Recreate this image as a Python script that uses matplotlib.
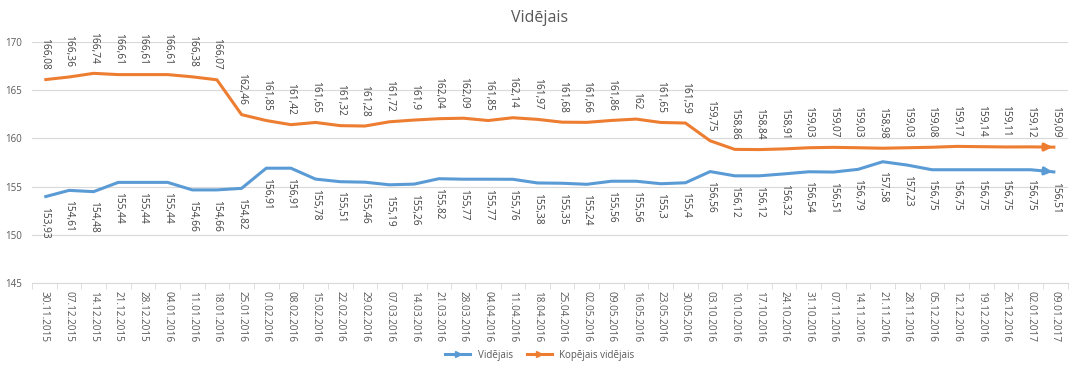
import matplotlib.pyplot as plt
from matplotlib.lines import Line2D

dates = ["30.11.2015", "07.12.2015", "14.12.2015", "21.12.2015", "28.12.2015",
         "04.01.2016", "11.01.2016", "18.01.2016", "25.01.2016", "01.02.2016",
         "08.02.2016", "15.02.2016", "22.02.2016", "29.02.2016", "07.03.2016",
         "14.03.2016", "21.03.2016", "28.03.2016", "04.04.2016", "11.04.2016",
         "18.04.2016", "25.04.2016", "02.05.2016", "09.05.2016", "16.05.2016",
         "23.05.2016", "30.05.2016", "03.10.2016", "10.10.2016", "17.10.2016",
         "24.10.2016", "31.10.2016", "07.11.2016", "14.11.2016", "21.11.2016",
         "28.11.2016", "05.12.2016", "12.12.2016", "19.12.2016", "26.12.2016",
         "02.01.2017", "09.01.2017"]

videjais = [153.93, 154.61, 154.48, 155.44, 155.44, 155.44, 154.66, 154.66, 154.82,
            156.91, 156.91, 155.78, 155.51, 155.46, 155.19, 155.26, 155.82, 155.77,
            155.77, 155.76, 155.38, 155.35, 155.24, 155.56, 155.56, 155.3, 155.4,
            156.56, 156.12, 156.12, 156.32, 156.54, 156.51, 156.79, 157.58, 157.23,
            156.75, 156.75, 156.75, 156.75, 156.75, 156.51]

kopejais = [166.08, 166.36, 166.74, 166.61, 166.61, 166.61, 166.38, 166.07, 162.46,
            161.85, 161.42, 161.65, 161.32, 161.28, 161.72, 161.9, 162.04, 162.09,
            161.85, 162.14, 161.97, 161.68, 161.66, 161.86, 162, 161.65, 161.59,
            159.75, 158.86, 158.84, 158.91, 159.03, 159.07, 159.03, 158.98, 159.03,
            159.08, 159.17, 159.14, 159.11, 159.12, 159.09]

blue = "#5b9bd5"
orange = "#ed7d31"
txt = "#595959"

plt.rcParams["font.family"] = ["Open Sans", "DejaVu Sans"]

fig = plt.figure(figsize=(10.8, 3.74), dpi=100)
ax = fig.add_axes([0.0296, 0.243, 0.959, 0.645])

x = list(range(len(dates)))


def fmt(v):
    s = ("%.2f" % v).rstrip("0").rstrip(".")
    return s.replace(".", ",")


for vals, col, above in [(videjais, blue, False), (kopejais, orange, True)]:
    ax.plot(x, vals, color=col, lw=2.2, solid_capstyle="butt")
    ax.annotate("", xy=(x[-1], vals[-1]), xytext=(x[-2] + 0.5, vals[-2] + 0.5 * (vals[-1] - vals[-2])),
                arrowprops=dict(arrowstyle="-|>", color=col, lw=2.2, mutation_scale=11))
    for xi, v in zip(x, vals):
        if above:
            ax.annotate(fmt(v), (xi, v), xytext=(0, 7), textcoords="offset points",
                        rotation=-90, ha="center", va="bottom", fontsize=7.3, color="#404040")
        else:
            ax.annotate(fmt(v), (xi, v), xytext=(0, -7), textcoords="offset points",
                        rotation=-90, ha="center", va="top", fontsize=7.3, color="#404040")

ax.set_ylim(145, 170)
ax.set_yticks([145, 150, 155, 160, 165, 170])
ax.set_xlim(-0.5, len(dates) - 0.5)
ax.set_xticks(x)
ax.set_xticklabels(dates, rotation=-90, fontsize=7.2, color=txt)
ax.set_xticks([i - 0.5 for i in range(len(dates) + 1)], minor=True)
ax.tick_params(axis="x", which="major", length=0, pad=6)
ax.tick_params(axis="x", which="minor", length=4, color="#d9d9d9")
ax.tick_params(axis="y", length=0, labelsize=7, labelcolor=txt, pad=7)
ax.grid(axis="y", color="#d9d9d9", lw=0.8)
ax.set_axisbelow(True)
for s in ["left", "right", "top"]:
    ax.spines[s].set_visible(False)
ax.spines["bottom"].set_color("#d9d9d9")

fig.text(0.5, 0.952, "Vidējais", ha="center", va="center", fontsize=11.5, color=txt)

handles = [Line2D([0], [0], color=blue, lw=2.2, marker=">", markevery=[1], markersize=5),
           Line2D([0], [0], color=orange, lw=2.2, marker=">", markevery=[1], markersize=5)]
fig.legend(handles, ["Vidējais", "Kopējais vidējais"], loc="center", bbox_to_anchor=(0.5, 0.05),
           ncol=2, frameon=False, fontsize=7, labelcolor=txt, handlelength=2.5, columnspacing=1.5)

fig.savefig("out.png", dpi=100)
